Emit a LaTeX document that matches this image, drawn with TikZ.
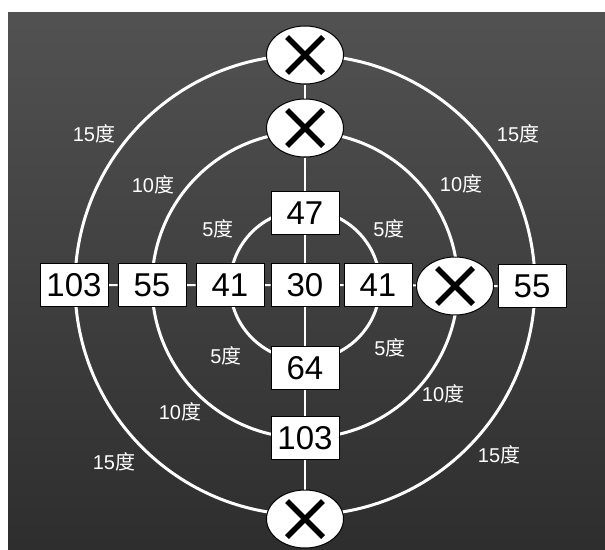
\documentclass[tikz,border=0pt]{standalone}
\usepackage{fontspec}
\setmainfont{Liberation Sans}
\newfontfamily\cjk{Noto Sans CJK SC}
\usetikzlibrary{shapes.geometric,backgrounds}
\tikzset{
  numbox/.style={draw=black, fill=white, line width=1pt, minimum width=68pt, minimum height=43pt, inner sep=0pt, font=\fontsize{33}{33}\selectfont},
  nogo/.style={ellipse, draw=black, fill=white, line width=1pt, minimum width=77pt, minimum height=58pt, inner sep=0pt,
    path picture={\draw[line width=5.5pt] ([shift={(-18pt,-18pt)}]path picture bounding box.center) -- ([shift={(18pt,18pt)}]path picture bounding box.center);
      \draw[line width=5.5pt] ([shift={(-18pt,18pt)}]path picture bounding box.center) -- ([shift={(18pt,-18pt)}]path picture bounding box.center);}},
  deg/.style={text=white, inner sep=0pt, font=\fontsize{20}{20}\selectfont},
  ring/.style={draw=white, line width=3pt},
  link/.style={draw=white, line width=2pt}
}
\begin{document}
\begin{tikzpicture}[x=1pt, y=-1pt]
\useasboundingbox (0,0) rectangle (605,549);
\coordinate (ctr) at (305,285);
% middle column:
\node[nogo] (xTop) at (305,55) {};
\node[nogo] (xTen) at (305,128) {};
\node[numbox] (n47) at (305,213) {47};
\node[numbox] (n30) at (305,285) {30};
\node[numbox] (n64) at (305,368) {64};
\node[numbox] (n103b) at (305,438) {103};
\node[nogo] (xBot) at (305,519) {};
% middle row:
\node[numbox] (n103) at (74,285) {103};
\node[numbox] (n55l) at (152,285) {55};
\node[numbox] (n41l) at (230,285) {41};
\node[numbox] (n41r) at (378,285) {41};
\node[nogo] (xRight) at (455,286) {};
\node[numbox] (n55r) at (532,286) {55};
% ring labels:
\node[deg] (d15ul) at (94,134) {15{\cjk 度}};
\node[deg] (d10ul) at (153,185) {10{\cjk 度}};
\node[deg] (d5ul) at (218,229) {5{\cjk 度}};
\node[deg] (d5ur) at (389,229) {5{\cjk 度}};
\node[deg] (d10ur) at (461,184) {10{\cjk 度}};
\node[deg] (d15ur) at (518,134) {15{\cjk 度}};
\node[deg] (d5ll) at (226,356) {5{\cjk 度}};
\node[deg] (d5lr) at (390,348) {5{\cjk 度}};
\node[deg] (d10ll) at (180,412) {10{\cjk 度}};
\node[deg] (d10lr) at (443,394) {10{\cjk 度}};
\node[deg] (d15ll) at (114,462) {15{\cjk 度}};
\node[deg] (d15lr) at (499,455) {15{\cjk 度}};
\begin{scope}[on background layer]
% ground and rings:
\fill[top color=black!68, bottom color=black!82] (8,12) rectangle (605,549);
\draw[ring] (ctr) circle[radius=75];
\draw[ring] (ctr) circle[radius=153];
\draw[ring] (ctr) circle[radius=230];
% links:
\draw[link] (xTop) -- (xTen) -- (n47) -- (n30) -- (n64) -- (n103b) -- (xBot);
\draw[link] (n103) -- (n55l) -- (n41l) -- (n30) -- (n41r) -- (xRight) -- (n55r);
\end{scope}
\end{tikzpicture}
\end{document}
